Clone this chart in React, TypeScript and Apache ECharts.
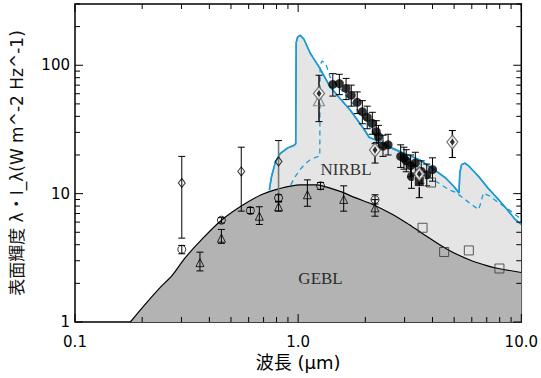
import React, { useEffect, useRef } from "react";
import * as echarts from "echarts";

// ---- axis ticks / labels ----
const xTickLabels: [number, string][] = [[0.1, "0.1"], [1, "1.0"], [10, "10.0"]];
const yTickLabels: [number, string][] = [[1, "1"], [10, "10"], [100, "100"]];
const xMajorTicks = [0.1, 1, 10];
const xMinorTicks = [0.2, 0.3, 0.4, 0.5, 0.6, 0.7, 0.8, 0.9, 2, 3, 4, 5, 6, 7, 8, 9];
const yMajorTicks = [1, 10, 100];
const yMinorTicks = [2, 3, 4, 5, 6, 7, 8, 9, 20, 30, 40, 50, 60, 70, 80, 90, 200, 300];

// ---- model curves ----
const geblCurve = [
  [0.177, 1], [0.2, 1.29], [0.241, 1.86], [0.272, 2.3], [0.312, 3.17], [0.37, 4.4],
  [0.453, 6.2], [0.556, 8.0], [0.683, 9.8], [0.817, 10.9], [1.02, 11.7], [1.2, 11.7],
  [1.54, 10.4], [1.8, 9.3], [2.17, 8.2], [2.6, 7.0], [3.05, 5.93], [3.6, 4.9],
  [4.29, 4.02], [5.0, 3.45], [6.03, 2.99], [7.0, 2.75], [7.9, 2.61], [10, 2.43],
];
const nirblSolid = [
  [0.743, 10.7], [0.76, 13.6], [0.79, 17.5], [0.83, 20.5], [0.895, 22.6], [0.96, 23.8],
  [0.975, 24.5], [0.98, 150], [0.995, 166], [1.02, 171], [1.06, 160], [1.136, 123],
  [1.25, 95], [1.39, 67.9], [1.54, 55], [1.71, 44.8], [1.96, 32.3], [2.08, 27.5],
  [2.15, 26.8], [2.24, 26.2], [2.5, 23.5], [2.85, 21.3], [3.49, 18.4], [4.07, 15.4],
  [4.59, 13.2], [5.0, 11.3], [5.26, 10.1], [5.3, 14.5], [5.4, 16.8], [5.58, 17.3],
  [5.8, 16.5], [6.44, 13.6], [7.1, 11.0], [7.9, 9.0], [8.6, 7.6], [9.38, 6.3], [10, 5.75],
];
const nirblDashed = [
  [0.927, 11.7], [0.96, 13.2], [1.02, 15.4], [1.08, 17.2], [1.135, 18.4], [1.2, 19.2],
  [1.25, 19.6], [1.255, 100], [1.28, 108], [1.33, 103], [1.39, 81], [1.71, 53.5],
  [2.04, 35.3], [2.2, 29], [2.5, 24], [2.95, 20.5], [3.6, 14.9], [4.14, 12.5],
  [4.74, 10.7], [5.1, 10.2], [5.6, 9.0], [6.0, 8.2], [6.44, 7.5], [6.6, 8.6],
  [6.76, 10.1], [7.2, 9.6], [7.9, 8.5], [8.9, 7.4], [10, 6.3],
];

// ---- observations: [x, y, low, high] ----
const openCircles = [
  [0.301, 3.68, 3.4, 3.95], [0.453, 6.21, 5.9, 6.5], [0.611, 7.38, 7.0, 7.8],
  [0.817, 9.26, 8.7, 9.8], [1.26, 11.5, 10.8, 12.2], [2.21, 8.98, 8.3, 9.8],
];
const openTriangles = [
  [0.363, 2.9, 2.5, 3.5], [0.453, 4.5, 4.1, 5.26], [0.67, 6.67, 5.75, 7.9],
  [0.817, 7.9, 7.3, 8.6], [1.1, 9.8, 7.97, 12.8], [1.6, 9.0, 7.3, 11.5],
  [2.21, 7.75, 6.67, 8.98],
];
const openDiamonds = [
  [0.301, 12.1, 4.5, 19.5], [0.556, 14.9, 7.3, 23],
];
const openDiamondsGray = [
  [0.817, 17.8, 8.7, 25.9],
];
const filledCircles = [
  [1.43, 70.9, 57.5, 86], [1.53, 72, 59, 85], [1.64, 66, 54, 79], [1.73, 58.5, 48, 70],
  [1.84, 51.4, 42, 62], [1.94, 43.5, 35, 53], [2.04, 39.3, 32, 48], [2.15, 35.3, 29, 43],
  [2.24, 30.4, 25, 37], [2.29, 27.8, 23, 34], [2.4, 23.5, 19.5, 28.5], [2.53, 24.0, 20, 29],
  [2.88, 19.5, 16, 24], [2.98, 18.9, 15.5, 23], [3.05, 18.0, 14.8, 22], [3.19, 16.5, 13.5, 20],
  [3.22, 13.6, 11, 16.5], [3.35, 17.3, 14, 21], [3.56, 14.9, 12, 18], [3.77, 14.0, 11.5, 17],
  [4.0, 15.4, 12.5, 19],
];
const dotDiamonds = [
  [1.24, 60.3, 36.4, 83.6], [2.21, 21.9, 17.3, 24.5], [3.49, 14.2, 9.3, 15.5], [4.91, 25.2, 19.1, 31],
];
const grayTriangles = [[1.24, 53.4]];
const filledSquares = [[3.49, 12.4]];
const openSquares = [[3.61, 5.42], [4.51, 3.51], [5.82, 3.61], [7.98, 2.61], [3.94, 12.2]];

const regionLabels = [
  { name: "NIRBL", value: [1.64, 15.4] },
  { name: "GEBL", value: [1.26, 2.18] },
];

const X_MIN = 0.1, X_MAX = 10, Y_MIN = 1, Y_MAX = 300;
const BLUE = "#1d9ad6";

function matchLabel(v: number, list: [number, string][]) {
  for (const [t, s] of list) {
    if (Math.abs(Math.log10(v) - Math.log10(t)) < 1e-6) return s;
  }
  return "";
}

function errSeries(data: number[][], color: string, width: number) {
  return {
    type: "custom",
    data: data.map((d) => [d[0], d[2], d[3]]),
    encode: { x: 0, y: [1, 2] },
    clip: false,
    z: 5,
    renderItem: (params: any, api: any) => {
      const x = api.value(0);
      const p1 = api.coord([x, api.value(1)]);
      const p2 = api.coord([x, api.value(2)]);
      const c = 3.5;
      const st = { stroke: color, lineWidth: width };
      return {
        type: "group",
        children: [
          { type: "line", shape: { x1: p1[0], y1: p1[1], x2: p2[0], y2: p2[1] }, style: st },
          { type: "line", shape: { x1: p1[0] - c, y1: p1[1], x2: p1[0] + c, y2: p1[1] }, style: { stroke: "#000", lineWidth: 1 } },
          { type: "line", shape: { x1: p2[0] - c, y1: p2[1], x2: p2[0] + c, y2: p2[1] }, style: { stroke: "#000", lineWidth: 1 } },
        ],
      };
    },
  };
}

function scatter(data: number[][], symbol: string, size: any, itemStyle: any, z = 6) {
  return {
    type: "scatter",
    data: data.map((d) => [d[0], d[1]]),
    symbol,
    symbolSize: size,
    itemStyle,
    z,
  };
}

export default function App() {
  const ref = useRef<HTMLDivElement>(null);
  useEffect(() => {
    if (!ref.current) return;
    const chart = echarts.init(ref.current, undefined, { renderer: "svg" });
    const tickData: number[][] = [
      ...xMajorTicks.map((v) => [v, Y_MIN, 0]),
      ...xMinorTicks.map((v) => [v, Y_MIN, 1]),
      ...yMajorTicks.map((v) => [X_MIN, v, 2]),
      ...yMinorTicks.map((v) => [X_MIN, v, 3]),
    ];
    const open = { color: "rgba(0,0,0,0)", borderColor: "#000", borderWidth: 1 };
    chart.setOption({
      animation: false,
      backgroundColor: "#fff",
      textStyle: { fontFamily: "DejaVu Sans" },
      grid: {
        left: 72, right: 17, top: 4, bottom: 56,
        show: true, borderColor: "#000", borderWidth: 1.5, backgroundColor: "transparent",
      },
      xAxis: {
        type: "log", logBase: 10, min: X_MIN, max: X_MAX,
        axisLine: { show: false }, axisTick: { show: false }, splitLine: { show: false },
        axisLabel: {
          color: "#000", fontSize: 15, margin: 12, fontFamily: "DejaVu Sans",
          formatter: (v: number) => matchLabel(v, xTickLabels),
        },
        name: "波長 (μm)", nameLocation: "middle", nameGap: 30,
        nameTextStyle: { color: "#000", fontSize: 18, fontFamily: "DejaVu Sans, Noto Sans CJK JP" },
      },
      yAxis: {
        type: "log", logBase: 10, min: Y_MIN, max: Y_MAX,
        axisLine: { show: false }, axisTick: { show: false }, splitLine: { show: false },
        axisLabel: {
          color: "#000", fontSize: 15, margin: 5, fontFamily: "DejaVu Sans",
          formatter: (v: number) => matchLabel(v, yTickLabels),
        },
        name: "表面輝度 λ・I_λ(W m^-2 Hz^-1)", nameLocation: "middle", nameGap: 50, nameRotate: 90,
        nameTextStyle: { color: "#111", fontSize: 17, fontFamily: "DejaVu Sans, Noto Sans CJK JP" },
      },
      series: [
        {
          type: "line", data: nirblSolid, symbol: "none", z: 2,
          lineStyle: { color: BLUE, width: 1.5 },
          areaStyle: { color: "#e5e5e5", opacity: 1, origin: "start" },
        },
        {
          type: "line", data: geblCurve, symbol: "none", smooth: 0.3, z: 3,
          lineStyle: { color: "#000", width: 1.2 },
          areaStyle: { color: "#b3b3b3", opacity: 1, origin: "start" },
        },
        {
          type: "line", data: nirblSolid, symbol: "none", z: 4,
          lineStyle: { color: BLUE, width: 1.5 },
        },
        {
          type: "line", data: nirblDashed, symbol: "none", z: 4,
          lineStyle: { color: BLUE, width: 1.3, type: [5, 4] },
        },
        errSeries(openDiamondsGray, "#777", 1.6),
        errSeries(openCircles, "#000", 1),
        errSeries(openTriangles, "#000", 1),
        errSeries(openDiamonds, "#000", 1),
        errSeries(filledCircles, "#000", 1),
        errSeries(dotDiamonds, "#000", 1.4),
        scatter(openCircles, "circle", 8, open),
        scatter(openTriangles, "triangle", 8, open),
        scatter(openDiamonds, "diamond", [7, 9], open),
        scatter(openDiamondsGray, "diamond", [7, 9], open),
        scatter(openSquares, "rect", 9, { color: "rgba(0,0,0,0)", borderColor: "#333", borderWidth: 1 }),
        scatter(grayTriangles, "triangle", 11, { color: "rgba(0,0,0,0)", borderColor: "#777", borderWidth: 1.2 }),
        scatter(filledCircles, "circle", 9, { color: "#000" }),
        scatter(filledSquares, "rect", 10, { color: "#000", borderColor: "#fff", borderWidth: 1 }, 7),
        scatter(dotDiamonds, "diamond", [11, 14], { color: "#fff", borderColor: "#555", borderWidth: 1.2 }, 7),
        scatter(dotDiamonds, "diamond", [5, 7], { color: "#000" }, 8),
        {
          type: "scatter", data: regionLabels, symbolSize: 0, z: 9, silent: true,
          label: {
            show: true, position: "inside", formatter: (p: any) => p.name,
            color: "#000", fontSize: 17, fontFamily: "Liberation Serif",
          },
        },
        {
          type: "custom", data: tickData, clip: false, z: 10, silent: true,
          encode: { x: 0, y: 1 },
          renderItem: (params: any, api: any) => {
            const kind = api.value(2);
            const st = { stroke: "#000", lineWidth: 1 };
            if (kind < 2) {
              const x = api.value(0);
              const b = api.coord([x, Y_MIN]);
              const t = api.coord([x, Y_MAX]);
              const len = kind === 0 ? 8 : 5;
              return {
                type: "group",
                children: [
                  { type: "line", shape: { x1: b[0], y1: b[1], x2: b[0], y2: b[1] - len }, style: st },
                  { type: "line", shape: { x1: t[0], y1: t[1], x2: t[0], y2: t[1] + len }, style: st },
                ],
              };
            }
            const y = api.value(1);
            const l = api.coord([X_MIN, y]);
            const r = api.coord([X_MAX, y]);
            const len = kind === 2 ? 8 : 5;
            return {
              type: "group",
              children: [
                { type: "line", shape: { x1: l[0], y1: l[1], x2: l[0] + len, y2: l[1] }, style: st },
                { type: "line", shape: { x1: r[0], y1: r[1], x2: r[0] - len, y2: r[1] }, style: st },
              ],
            };
          },
        },
      ],
    });
    return () => chart.dispose();
  }, []);
  return <div ref={ref} style={{ width: 541, height: 378, position: "absolute", left: 0, top: 0 }} />;
}
